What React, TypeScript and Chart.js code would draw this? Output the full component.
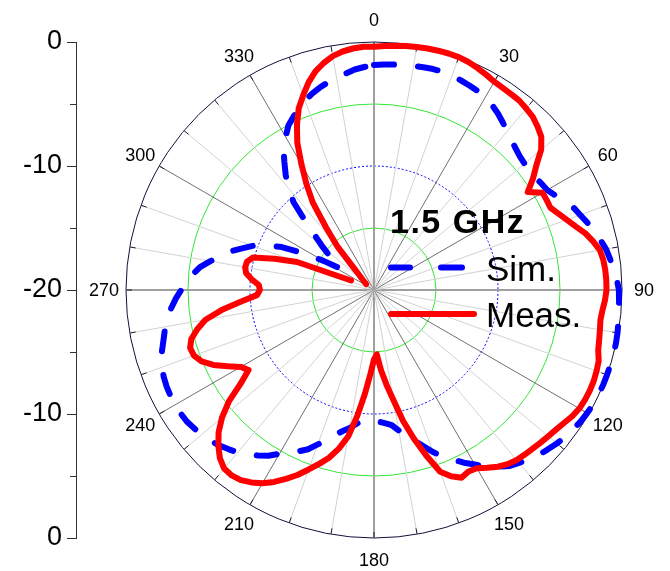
import React, { useEffect, useRef } from 'react';
import { Chart, registerables } from 'chart.js';

Chart.register(...registerables);

const FONT = '"Liberation Sans", Arial, Helvetica, sans-serif';

// Polar angles (degrees, clockwise from top)
const ANGLES = [
  0, 2.5, 5, 7.5, 10, 12.5, 15, 17.5, 20, 22.5, 25, 27.5,
  30, 32.5, 35, 37.5, 40, 42.5, 45, 47.5, 50, 52.5, 55, 57.5,
  60, 62.5, 65, 67.5, 70, 72.5, 75, 77.5, 80, 82.5, 85, 87.5,
  90, 92.5, 95, 97.5, 100, 102.5, 105, 107.5, 110, 112.5, 115, 117.5,
  120, 122.5, 125, 127.5, 130, 132.5, 135, 137.5, 140, 142.5, 145, 147.5,
  150, 152.5, 155, 157.5, 160, 162.5, 165, 167.5, 170, 172.5, 175, 177.5,
  180, 182.5, 185, 187.5, 190, 192.5, 195, 197.5, 200, 202.5, 205, 207.5,
  210, 212.5, 215, 217.5, 220, 222.5, 225, 227.5, 230, 232.5, 235, 237.5,
  240, 242.5, 245, 247.5, 250, 252.5, 255, 257.5, 260, 262.5, 265, 267.5,
  270, 272.5, 275, 277.5, 280, 282.5, 285, 287.5, 290, 292.5, 295, 297.5,
  300, 302.5, 305, 307.5, 310, 312.5, 315, 317.5, 320, 322.5, 325, 327.5,
  330, 332.5, 335, 337.5, 340, 342.5, 345, 347.5, 350, 352.5, 355, 357.5,
];

// Angle labels shown around the circle
const ANGLE_LABELS = [0, 30, 60, 90, 120, 150, 180, 210, 240, 270, 300, 330];

// Simulated pattern (dB)
const SIM = [
  -1.85, -1.8, -1.75, -1.7, -1.65, -1.6, -1.55, -1.55, -1.6, -1.7, -1.8, -1.9,
  -2.05, -2.3, -2.6, -2.95, -3.3, -3.6, -3.85, -4.05, -4.15, -4.2, -4.15, -4.0,
  -3.87, -3.5, -3.0, -2.6, -2.3, -1.95, -1.6, -1.3, -1.0, -0.8, -0.6, -0.4,
  -0.25, -0.22, -0.18, -0.12, -0.06, -0.02, 0, 0, 0, 0, -0.02, -0.05,
  -0.15, -0.25, -0.4, -0.55, -0.75, -0.98, -1.2, -1.5, -1.8, -2.1, -2.6, -3.1,
  -3.75, -4.3, -4.9, -5.45, -6.1, -6.8, -7.45, -7.95, -8.5, -9.0, -9.2, -9.35,
  -9.4, -9.45, -9.45, -9.1, -8.7, -8.35, -7.9, -7.3, -6.75, -6.1, -5.65, -5.15,
  -4.75, -4.15, -3.7, -3.3, -2.9, -2.6, -2.3, -2.05, -1.85, -1.7, -1.55, -1.5,
  -1.5, -1.5, -1.55, -1.65, -1.8, -2.0, -2.35, -2.65, -2.9, -3.2, -3.6, -4.0,
  -4.45, -4.85, -5.35, -5.85, -6.6, -7.3, -8.0, -8.85, -9.6, -10.7, -11.8, -13.6,
  -15.3, -16.8, -16.3, -15.5, -14.6, -13.6, -12.2, -10.4, -9.3, -8.3, -7.4, -6.4,
  -5.75, -5.05, -4.6, -4.15, -3.75, -3.4, -3.1, -2.85, -2.65, -2.4, -2.15, -2.0,
];

// Measured pattern (dB); null = below the -20 dB floor
const MEAS = [
  -0.38, -0.3, -0.22, -0.15, -0.1, -0.05, -0.02, 0, -0.02, -0.1, -0.25, -0.42,
  -0.6, -0.68, -0.72, -0.75, -0.9, -1.05, -1.35, -1.7, -2.4, -3.5, -4.35, -5.3,
  -4.3, -4.3, -4.3, -3.9, -3.45, -2.95, -2.35, -1.9, -1.5, -1.35, -1.28, -1.25,
  -1.25, -1.35, -1.5, -1.58, -1.5, -1.4, -1.28, -1.0, -0.9, -0.82, -0.8, -0.82,
  -0.88, -1.05, -1.3, -1.5, -1.65, -1.78, -1.9, -2.0, -2.1, -2.3, -2.6, -3.0,
  -3.4, -3.5, -3.3, -3.75, -4.4, -6.0, -7.6, -9.2, -11.0, -12.3, -13.5, -14.8,
  -14.4, -13.2, -11.6, -9.8, -8.0, -6.9, -6.0, -5.3, -4.6, -3.85, -3.2, -2.55,
  -2.0, -1.6, -1.28, -1.15, -1.2, -1.6, -2.25, -3.0, -4.0, -5.25, -6.9, -8.0,
  -7.6, -6.7, -5.7, -4.95, -4.55, -4.45, -4.75, -5.4, -6.2, -7.6, -9.2, -10.55,
  -10.8, -10.7, -10.1, -9.6, -9.45, -9.5, -9.9, -11.6, -13.4, -18.0, null, null,
  null, null, null, -19.2, -19.0, -18.75, -18.4, -17.6, -15.35, -13.65, -11.4, -9.85,
  -8.3, -6.6, -5.3, -4.14, -3.3, -2.45, -1.75, -1.25, -0.85, -0.6, -0.45, -0.36,
];

// Radial range (dB)
const R_MIN = -20;
const R_MAX = 0;
const R_STEP = 5;

// Left linear axis: positions along the diameter and their labels
const LEFT_TICK_VALUES = [0, 10, 20, 30, 40];
const LEFT_TICK_LABELS = ['0', '-10', '-20', '-10', '0'];

// Outer-circle tick marks every 10 degrees, and centred angle labels
const polarDecor = {
  id: 'polarDecor',
  beforeDatasetsDraw(chart: any) {
    const s = chart.scales.r;
    const ctx = chart.ctx;
    ctx.save();
    ctx.strokeStyle = '#1a1a33';
    ctx.lineWidth = 1;
    ANGLES.forEach((a, i) => {
      if (a % 10 !== 0) return;
      const p1 = s.getPointPosition(i, s.drawingArea);
      const p2 = s.getPointPosition(i, s.drawingArea - 6);
      ctx.beginPath();
      ctx.moveTo(p1.x, p1.y);
      ctx.lineTo(p2.x, p2.y);
      ctx.stroke();
    });
    ctx.restore();
  },
  afterDraw(chart: any) {
    const s = chart.scales.r;
    const ctx = chart.ctx;
    ctx.save();
    ctx.fillStyle = '#000';
    ctx.font = `18px ${FONT}`;
    ctx.textAlign = 'center';
    ctx.textBaseline = 'middle';
    ANGLE_LABELS.forEach((a) => {
      const i = ANGLES.indexOf(a);
      const p = s.getPointPosition(i, s.drawingArea + 22);
      ctx.fillText(String(a), p.x, p.y + 1);
    });
    ctx.restore();
  },
};

export default function App() {
  const radarRef = useRef<HTMLCanvasElement>(null);
  const axisRef = useRef<HTMLCanvasElement>(null);

  useEffect(() => {
    const radar = new Chart(radarRef.current as HTMLCanvasElement, {
      type: 'radar',
      data: {
        labels: ANGLES,
        datasets: [
          {
            label: 'Meas.',
            data: MEAS,
            borderColor: '#ff0000',
            borderWidth: 6,
            borderCapStyle: 'round',
            borderJoinStyle: 'round',
            pointRadius: 0,
            fill: false,
            spanGaps: false,
            tension: 0,
          },
          {
            label: 'Sim.',
            data: SIM,
            borderColor: '#0000ff',
            borderWidth: 6,
            borderDash: [20, 24],
            borderCapStyle: 'round',
            borderJoinStyle: 'round',
            pointRadius: 0,
            fill: false,
            tension: 0,
          },
        ],
      } as any,
      options: {
        responsive: false,
        animation: false,
        maintainAspectRatio: false,
        layout: { padding: 37 },
        plugins: { legend: { display: false }, tooltip: { enabled: false } },
        scales: {
          r: {
            min: R_MIN,
            max: R_MAX,
            beginAtZero: false,
            ticks: { display: false, stepSize: R_STEP },
            grid: {
              circular: true,
              color: (c: any) => {
                const v = c.tick ? c.tick.value : 0;
                if (v === -15 || v === -5) return '#33e633';
                if (v === -10) return '#0000ff';
                if (v === 0) return '#10103a';
                return 'rgba(0,0,0,0)';
              },
              lineWidth: 1,
            },
            border: {
              dash: (c: any) => (c.tick && c.tick.value === -10 ? [2, 2] : []),
            },
            angleLines: {
              color: (c: any) => {
                const a = ANGLES[c.index];
                if (a % 90 === 0) return '#a0a0a0';
                if (a % 30 === 0) return '#707070';
                if (a % 10 === 0) return '#d2d2d2';
                return 'rgba(0,0,0,0)';
              },
              lineWidth: (c: any) => {
                const a = ANGLES[c.index];
                if (a % 90 === 0) return 2;
                if (a % 10 === 0) return 1;
                return 0;
              },
            },
            pointLabels: { display: false },
          },
        },
      } as any,
      plugins: [polarDecor],
    });

    const axis = new Chart(axisRef.current as HTMLCanvasElement, {
      type: 'scatter',
      data: { datasets: [] },
      options: {
        responsive: false,
        animation: false,
        maintainAspectRatio: false,
        layout: { padding: { top: 42, bottom: 33, left: 0, right: 0 } },
        plugins: { legend: { display: false }, tooltip: { enabled: false } },
        scales: {
          x: { display: false, min: 0, max: 1 },
          y: {
            position: 'left',
            min: 0,
            max: 40,
            afterFit: (s: any) => {
              s.width = 76;
            },
            ticks: {
              stepSize: 5,
              autoSkip: false,
              padding: 5,
              color: '#000',
              font: { family: FONT, size: 27 },
              callback: (v: any) => {
                const i = LEFT_TICK_VALUES.indexOf(Number(v));
                return i >= 0 ? LEFT_TICK_LABELS[i] : '';
              },
            },
            grid: {
              drawOnChartArea: false,
              tickLength: 9,
              tickColor: '#333',
              tickWidth: 1,
              tickBorderDash: (c: any) =>
                c.tick && c.tick.value % 10 !== 0 ? [0, 3, 6, 100] : [],
            },
            border: { color: '#333', width: 1 },
          },
        },
      } as any,
    });

    return () => {
      radar.destroy();
      axis.destroy();
    };
  }, []);

  return (
    <div
      style={{
        position: 'absolute',
        left: 0,
        top: 0,
        width: 670,
        height: 571,
        overflow: 'hidden',
        background: '#fff',
        fontFamily: FONT,
        color: '#000',
      }}
    >
      <canvas
        ref={axisRef}
        width={90}
        height={571}
        style={{ position: 'absolute', left: 0, top: 0, width: 90, height: 571 }}
      />
      <canvas
        ref={radarRef}
        width={570}
        height={570}
        style={{ position: 'absolute', left: 89, top: 5, width: 570, height: 570 }}
      />
      <svg
        width={670}
        height={571}
        style={{ position: 'absolute', left: 0, top: 0, pointerEvents: 'none' }}
      >
        <line x1={391} y1={267.5} x2={410} y2={267.5} stroke="#0000ff" strokeWidth={6} strokeLinecap="round" />
        <line x1={441} y1={267.5} x2={462} y2={267.5} stroke="#0000ff" strokeWidth={6} strokeLinecap="round" />
        <line x1={391} y1={314} x2={474} y2={314} stroke="#ff0000" strokeWidth={6} strokeLinecap="round" />
      </svg>
      <div
        style={{
          position: 'absolute',
          left: 390,
          top: 204,
          fontSize: 34,
          lineHeight: '34px',
          fontWeight: 'bold',
          letterSpacing: 1.5,
          whiteSpace: 'nowrap',
        }}
      >
        1.5 GHz
      </div>
      <div
        style={{
          position: 'absolute',
          left: 486,
          top: 251,
          fontSize: 35,
          lineHeight: '35px',
          whiteSpace: 'nowrap',
        }}
      >
        Sim.
      </div>
      <div
        style={{
          position: 'absolute',
          left: 486,
          top: 297,
          fontSize: 35,
          lineHeight: '35px',
          whiteSpace: 'nowrap',
        }}
      >
        Meas.
      </div>
    </div>
  );
}
